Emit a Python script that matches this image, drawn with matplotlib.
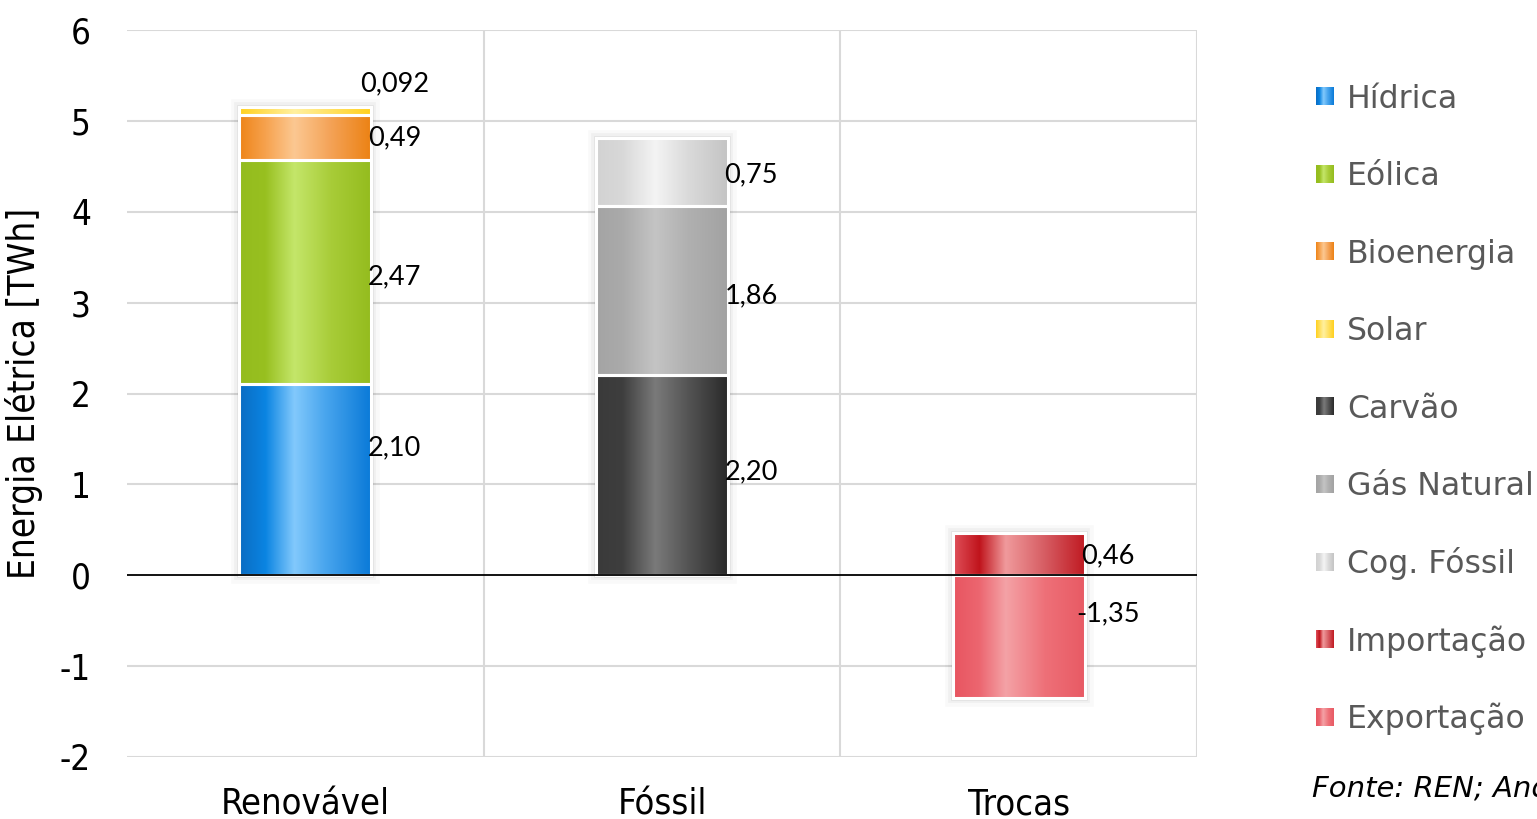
import matplotlib
matplotlib.use('Agg')
import matplotlib.pyplot as plt
import numpy as np
from matplotlib.colors import LinearSegmentedColormap
from matplotlib.patches import Rectangle
import matplotlib.patheffects as pe

categories = ['Renovável', 'Fóssil', 'Trocas']
series = ['Hídrica', 'Eólica', 'Bioenergia', 'Solar', 'Carvão',
          'Gás Natural', 'Cog. Fóssil', 'Importação', 'Exportação']
series_cat = [0, 0, 0, 0, 1, 1, 1, 2, 2]
values = [2.10, 2.47, 0.49, 0.092, 2.20, 1.86, 0.75, 0.46, -1.35]
value_labels = ['2,10', '2,47', '0,49', '0,092', '2,20', '1,86', '0,75', '0,46', '-1,35']
label_dy = [0.35, -0.05, 0.0, 0.3, 0.04, -0.06, -0.03, -0.02, 0.25]
yticks = [-2, -1, 0, 1, 2, 3, 4, 5, 6]

# horizontal gradient stops per series (position, colour)
grads = [
    [(0, '#0a6cc2'), (0.2, '#0a84e2'), (0.42, '#82c9fc'), (0.65, '#4aa6ee'), (1, '#0a7ad8')],
    [(0, '#94bc1e'), (0.2, '#98c020'), (0.42, '#c4e66a'), (0.7, '#a8cc38'), (1, '#94bc1e')],
    [(0, '#ee8418'), (0.2, '#f6a24e'), (0.42, '#fcc892'), (0.7, '#f4a256'), (1, '#ec8214')],
    [(0, '#ffd01e'), (0.42, '#fff0a0'), (1, '#ffd01e')],
    [(0, '#3a3a3a'), (0.2, '#3e3e3e'), (0.45, '#7a7a7a'), (0.7, '#545454'), (1, '#2a2a2a')],
    [(0, '#a4a4a4'), (0.2, '#aaaaaa'), (0.45, '#c4c4c4'), (0.7, '#b0b0b0'), (1, '#a2a2a2')],
    [(0, '#d2d2d2'), (0.2, '#d8d8d8'), (0.45, '#f4f4f4'), (0.7, '#dadada'), (1, '#c4c4c4')],
    [(0, '#e0505a'), (0.2, '#c0141c'), (0.4, '#f09a9c'), (0.7, '#d65c62'), (1, '#c01a22')],
    [(0, '#e85560'), (0.2, '#ec6670'), (0.4, '#f4a2a6'), (0.7, '#ee7078'), (1, '#e85a64')],
]
cmaps = [LinearSegmentedColormap.from_list('g%d' % i, g) for i, g in enumerate(grads)]
ramp = np.linspace(0, 1, 256).reshape(1, -1)

fig = plt.figure(figsize=(15.37, 8.19), dpi=100)
ax = fig.add_axes([127 / 1537, 1 - 757 / 819, 1070 / 1537, 727 / 819])

ax.set_xlim(-0.5, 2.5)
ax.set_ylim(-2, 6)
ax.set_yticks(yticks)
ax.set_xticks(range(len(categories)))
for y in yticks:
    if y != 0:
        ax.axhline(y, color='#d9d9d9', lw=1.5, zorder=0)
for x in [0.5, 1.5, 2.5]:
    ax.axvline(x, color='#d9d9d9', lw=1.5, zorder=0)
ax.axhline(0, color='black', lw=1.3, zorder=4)
for s in ax.spines.values():
    s.set_visible(False)

width = 0.37
pos_base = [0.0] * len(categories)
neg_base = [0.0] * len(categories)
for i, v in enumerate(values):
    c = series_cat[i]
    if v >= 0:
        y0 = pos_base[c]
        pos_base[c] += v
    else:
        y0 = neg_base[c]
        neg_base[c] += v
    bars = ax.bar(c, v, width, bottom=y0, facecolor='none', edgecolor='white',
                  lw=2.2, zorder=3)
    r = bars[0]
    x0, x1 = r.get_x(), r.get_x() + r.get_width()
    ylo, yhi = sorted([y0, y0 + v])
    ax.imshow(ramp, cmap=cmaps[i], extent=[x0, x1, ylo, yhi], aspect='auto',
              interpolation='bilinear', zorder=2)
    ax.text(c + 0.25, y0 + v / 2 + label_dy[i], value_labels[i], ha='center',
            va='center', fontsize=19.5, family=['Lato', 'DejaVu Sans'], color='black', zorder=5)

# soft shadow around each whole stack
for c in range(len(categories)):
    sh = Rectangle((c - width / 2, neg_base[c]), width, pos_base[c] - neg_base[c],
                   facecolor='none', edgecolor='#000000', lw=0, zorder=1.5)
    sh.set_path_effects([pe.Stroke(linewidth=12, foreground='#000000', alpha=0.025),
                         pe.Stroke(linewidth=7, foreground='#000000', alpha=0.035),
                         pe.Stroke(linewidth=3.5, foreground='#000000', alpha=0.05)])
    ax.add_patch(sh)

ax.set_xlim(-0.5, 2.5)
ax.set_ylim(-2, 6)
ax.tick_params(length=0)
ax.tick_params(axis='y', pad=26, labelsize=25)
ax.tick_params(axis='x', pad=22, labelsize=26)
ax.set_xticklabels(categories, fontstretch='condensed')
ax.set_yticklabels([str(y) for y in yticks], fontstretch='condensed')
ax.set_ylabel('Energia Elétrica [TWh]', fontsize=26.5, fontstretch='condensed', labelpad=12)

# legend on the right
W, H = 1537, 819
for i, name in enumerate(series):
    yc = 96 + i * 77.6
    lax = fig.add_axes([1316 / W, 1 - (yc + 9) / H, 18 / W, 18 / H])
    lax.imshow(ramp, cmap=cmaps[i], aspect='auto', interpolation='bilinear')
    lax.axis('off')
    fig.text(1347 / W, 1 - (yc + 11.5) / H, name, fontsize=22.7, color='#595959',
             va='baseline', ha='left')

fig.text(1312 / W, 1 - 797 / H, 'Fonte: REN; And', fontsize=21, style='italic',
         color='black', va='baseline', ha='left')

fig.savefig('out.png', dpi=100)
